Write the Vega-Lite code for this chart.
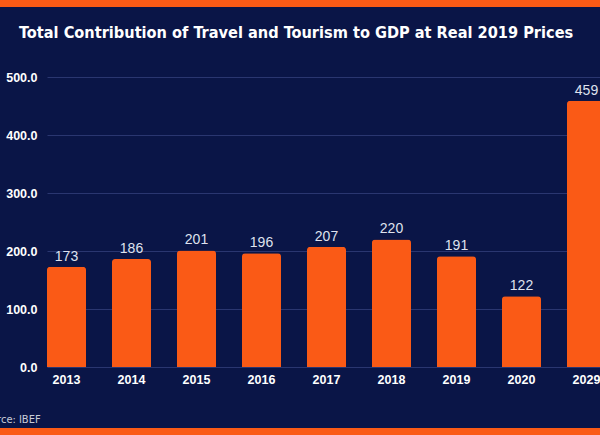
{
  "$schema": "https://vega.github.io/schema/vega-lite/v6.json",
  "width": 553,
  "height": 290,
  "autosize": {"type": "none"},
  "padding": {"left": 47, "top": 77, "right": 0, "bottom": 68},
  "background": "#0a1547",
  "config": {
    "view": {"stroke": null},
    "font": "Liberation Sans"
  },
  "title": {
    "text": "Total Contribution of Travel and Tourism to GDP at Real 2019 Prices",
    "font": "DejaVu Sans Condensed",
    "fontSize": 16.2,
    "fontWeight": "bold",
    "color": "#ffffff",
    "anchor": "start",
    "dx": 41,
    "offset": -41
  },
  "data": {
    "values": [
      {"year": "2013", "value": 173},
      {"year": "2014", "value": 186},
      {"year": "2015", "value": 201},
      {"year": "2016", "value": 196},
      {"year": "2017", "value": 207},
      {"year": "2018", "value": 220},
      {"year": "2019", "value": 191},
      {"year": "2020", "value": 122},
      {"year": "2029", "value": 459}
    ]
  },
  "layer": [
    {
      "layer": [
        {
          "mark": {"type": "bar", "color": "#fa5a16", "cornerRadiusTopLeft": 3, "cornerRadiusTopRight": 3},
          "encoding": {
            "x": {
              "field": "year", "type": "nominal",
              "scale": {"range": [0, 559], "paddingInner": 0.4, "paddingOuter": 0},
              "axis": {
                "labelColor": "#ffffff", "labelFontWeight": "bold", "labelFontSize": 12.5,
                "labelFont": "Liberation Sans", "labelAngle": 0, "labelPadding": 6,
                "ticks": false, "domain": false,
                "title": "Source: IBEF", "titleColor": "#c9ccd8", "titleFontWeight": "normal",
                "titleFontSize": 11, "titleFont": "DejaVu Sans Condensed",
                "titleAnchor": "start", "titleAlign": "left", "titleX": -69, "titleY": 55,
                "titleBaseline": "alphabetic"
              }
            },
            "y": {
              "field": "value", "type": "quantitative",
              "scale": {"domain": [0, 500], "nice": false},
              "axis": {
                "values": [0, 100, 200, 300, 400, 500], "format": ".1f",
                "labelColor": "#ffffff", "labelFontWeight": "bold", "labelFontSize": 12.5,
                "labelFont": "Liberation Sans", "labelPadding": 10,
                "ticks": false, "domain": false, "title": null,
                "grid": true, "gridColor": "#2a3670", "gridWidth": 1
              }
            }
          }
        },
        {
          "mark": {"type": "text", "baseline": "bottom", "dy": -3, "fontSize": 14, "color": "#dfe2ee", "font": "Liberation Sans"},
          "encoding": {
            "x": {"field": "year", "type": "nominal"},
            "y": {"field": "value", "type": "quantitative"},
            "text": {"field": "value", "type": "quantitative"}
          }
        }
      ]
    },
    {
      "data": {"values": [{"band": "decor"}]},
      "layer": [
        {
          "mark": {"type": "rect", "color": "#fa5a16"},
          "encoding": {
            "x": {"datum": -47, "type": "quantitative", "scale": {"domain": [0, 553], "nice": false, "zero": false}, "axis": null},
            "x2": {"datum": 553},
            "y": {"datum": 620.7, "type": "quantitative", "scale": {"domain": [0, 500], "nice": false, "zero": false}, "axis": null},
            "y2": {"datum": 632.8}
          }
        },
        {
          "mark": {"type": "rect", "color": "#fa5a16"},
          "encoding": {
            "x": {"datum": -47, "type": "quantitative", "axis": null},
            "x2": {"datum": 553},
            "y": {"datum": -105.2, "type": "quantitative", "axis": null},
            "y2": {"datum": -117.3}
          }
        }
      ]
    }
  ],
  "resolve": {"scale": {"x": "independent", "y": "independent"}}
}
